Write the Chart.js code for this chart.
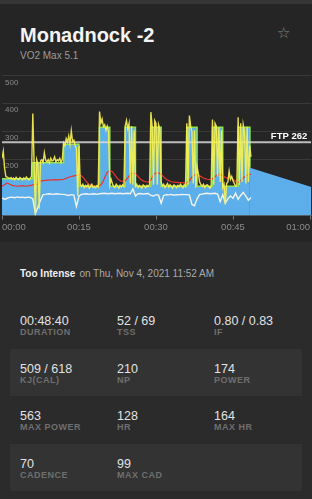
<!DOCTYPE html>
<html>
<head>
<meta charset="utf-8">
<script src="https://cdn.jsdelivr.net/npm/chart.js@4.4.0/dist/chart.umd.min.js"></script>
<style>
  html, body { margin: 0; padding: 0; }
  body {
    width: 312px; height: 499px; overflow: hidden; position: relative;
    background: #2b2b2b; font-family: "Liberation Sans", Arial, sans-serif;
  }
  .topbar { position: absolute; left: 0; top: 0; width: 312px; height: 4px; background: #363636; }
  .head { position: absolute; left: 0; top: 4px; width: 312px; height: 238px; background: #252525; }
  .title { position: absolute; left: 20px; top: 25px; font-size: 20px; line-height: 20px; font-weight: bold; color: #f4f4f4; }
  .sub { position: absolute; left: 20px; top: 51px; font-size: 10px; line-height: 10px; color: #9c9c9c; }
  .star { position: absolute; left: 277px; top: 24px; font-family: "DejaVu Sans"; font-size: 15px; line-height: 18px; color: #8a8a8a; }
  .chartbox { position: absolute; left: 0; top: 68px; width: 312px; height: 167px; }
  .feel { position: absolute; left: 20px; top: 269px; font-size: 10px; line-height: 10px; color: #aaa; white-space: nowrap; }
  .feel b { color: #f0f0f0; margin-right: 4px; }
  .stats { position: absolute; left: 0; top: 301px; width: 312px; }
  .row { position: relative; height: 47.5px; margin: 0 10px; }
  .row.alt { background: #333333; }
  .cell { position: absolute; top: 0; }
  .val { position: absolute; top: 14px; left: 0; font-size: 12.5px; line-height: 12.5px; color: #e2e2e2; white-space: nowrap; }
  .lab { position: absolute; top: 27px; left: 0; font-size: 9px; line-height: 9px; font-weight: bold; letter-spacing: 0.5px; color: #6f6f6f; white-space: nowrap; }
</style>
</head>
<body>
<div class="topbar"></div>
<div class="head"></div>
<div class="title">Monadnock -2</div>
<div class="sub">VO2 Max 5.1</div>
<div class="star">☆</div>
<div class="chartbox"><canvas id="ride"></canvas></div>
<div class="feel"><b>Too Intense</b>on Thu, Nov 4, 2021 11:52 AM</div>
<div class="stats" id="stats"></div>

<script>
'use strict';

// time axis (minutes)
let timeTicks = [0, 15, 30, 45, 60];
let xMax = 60.25;
let powerTicks = [200, 300, 400, 500];
let ftp = 262;

// planned workout profile (minutes / watts)
let targetTime = [0, 6, 6, 12, 12, 15, 15, 19, 19, 21, 21, 24, 24, 26, 26, 29, 29, 31, 31, 36, 36, 38, 38, 41, 41, 43, 43, 46, 46, 48.3, 48.3, 60.25];
let targetPower = [132, 132, 189, 189, 255, 255, 105, 105, 316, 316, 105, 105, 316, 316, 105, 105, 316, 316, 105, 105, 316, 316, 105, 105, 316, 316, 105, 105, 316, 316, 171, 102];
let workoutEnd = 48.3;

// actual power, one sample every 15 s
let powerStep = 0.25;
let power = [
  205, 230, 170, 140,  138, 135, 132, 136,  130, 134, 128, 137,  131, 129, 136, 133,
  128, 135, 130, 138,  132, 127, 134, 140,  365, 190, 0, 200,    185, 25, 195, 200,
  190, 225, 198, 192,  200, 188, 205, 195,  198, 210, 192, 200,  196, 205, 190, 202,
  260, 250, 275, 262,  285, 255, 303, 265,  270, 250, 240, 70,   250, 110, 105, 112,
  100, 108, 103, 110,  98, 105, 112, 100,   104, 99, 107, 102,   372, 330, 345, 318,
  325, 305, 320, 300,  110, 130, 115, 104,  100, 112, 106, 98,   108, 102, 110, 104,
  320, 340, 310, 330,  115, 320, 110, 305,  105, 112, 100, 108,  103, 98, 110, 106,
  100, 108, 104, 112,  370, 320, 110, 340,  330, 110, 325, 310,  120, 105, 112, 100,
  108, 115, 102, 110,  104, 98, 110, 106,   100, 108, 103, 112,  106, 100, 110, 104,
  330, 110, 358, 320,  300, 115, 305, 100,  175, 150, 120, 110,  105, 112, 100, 108,
  110, 104, 98, 106,   344, 110, 330, 320,  140, 315, 120, 305,  100, 112, 40, 115,
  120, 159, 130, 140,  125, 115, 105, 110,  352, 110, 330, 120,  325, 300, 115, 318,
  120, 250, 210
];

// heart rate and cadence, one sample every 30 s
let trackStep = 0.5;
let heartRate = [
  105, 110, 117, 112, 108, 106, 105, 106, 107, 105, 106, 107,
  110, 112, 113, 123, 125, 126, 127, 128, 128, 129, 128, 129,
  130, 133, 137, 140, 142, 144,
  147, 142, 132, 120, 111, 108, 106, 105,
  106, 115, 135, 155, 160, 158, 145, 132, 125, 122,
  124, 135, 148, 153, 150, 140, 130, 124, 121, 120,
  128, 145, 153, 152, 148, 138, 130, 125, 121, 120, 119, 118, 118, 117,
  118, 125, 138, 145, 147, 142, 137, 132, 130, 129,
  132, 140, 146, 147, 143, 136, 133, 138, 130, 122,
  118, 125, 135, 142, 147, 148
];
let cadence = [
  63, 58, 62, 65, 66, 64, 67, 65, 66, 64, 66, 65,
  60, 8, 30, 55, 75, 76, 78, 77, 76, 78, 77, 76,
  76, 74, 72, 75, 73, 33,
  70, 76, 77, 78, 76, 77, 78, 76,
  78, 79, 80, 78, 79, 80, 78, 79, 80, 78,
  79, 80, 78, 95, 70, 78, 79, 77, 78, 79,
  72, 70, 75, 73, 44, 72, 75, 74, 76, 73, 75, 74, 76, 75,
  75, 74, 40, 35, 60, 75, 77, 79, 80, 78,
  79, 80, 77, 50, 75, 45, 60, 70, 62, 80,
  58, 72, 83, 70, 55, 65
];

let statRows = [
  [['00:48:40', 'DURATION'], ['52 / 69', 'TSS'], ['0.80 / 0.83', 'IF']],
  [['509 / 618', 'KJ(CAL)'], ['210', 'NP'], ['174', 'POWER']],
  [['563', 'MAX POWER'], ['128', 'HR'], ['164', 'MAX HR']],
  [['70', 'CADENCE'], ['99', 'MAX CAD']]
];
let colLeft = [10, 107, 204];

// stats table
let statsEl = document.getElementById('stats');
statRows.forEach(function (row, r) {
  let rowEl = document.createElement('div');
  rowEl.className = 'row' + (r % 2 === 1 ? ' alt' : '');
  row.forEach(function (item, c) {
    let cell = document.createElement('div');
    cell.className = 'cell';
    cell.style.left = colLeft[c] + 'px';
    cell.innerHTML = '<div class="val">' + item[0] + '</div><div class="lab">' + item[1] + '</div>';
    rowEl.appendChild(cell);
  });
  statsEl.appendChild(rowEl);
});

function toPoints(values, step) {
  return values.map(function (v, i) { return { x: i * step, y: v }; });
}

function clock(v) {
  let h = Math.floor(v / 60);
  let m = Math.round(v % 60);
  return String(h).padStart(2, '0') + ':' + String(m).padStart(2, '0');
}

let fontFamily = '"Liberation Sans", Arial, sans-serif';

let ftpLabel = {
  id: 'ftpLabel',
  afterDatasetsDraw(chart) {
    let ctx = chart.ctx;
    let y = chart.scales.y.getPixelForValue(ftp);
    ctx.save();
    ctx.font = 'bold 9.5px ' + fontFamily;
    ctx.fillStyle = '#ffffff';
    ctx.textAlign = 'right';
    ctx.textBaseline = 'alphabetic';
    ctx.fillText('FTP ' + ftp, chart.chartArea.right - 4, y - 3);
    ctx.restore();
  }
};

new Chart(document.getElementById('ride'), {
  type: 'line',
  data: {
    datasets: [
      {
        label: 'Power',
        data: toPoints(power, powerStep),
        borderColor: 'rgba(246, 240, 80, 0.92)',
        borderWidth: 1.4,
        order: 1
      },
      {
        label: 'Heart rate',
        data: toPoints(heartRate, trackStep),
        borderColor: '#e8342b',
        borderWidth: 1.2,
        order: 2
      },
      {
        label: 'Cadence',
        data: toPoints(cadence, trackStep),
        borderColor: '#f2f2f2',
        borderWidth: 1.4,
        order: 3
      },
      {
        label: 'FTP',
        data: [{ x: 0, y: ftp }, { x: xMax, y: ftp }],
        borderColor: 'rgba(215, 215, 215, 0.85)',
        borderWidth: 2,
        order: 4
      },
      {
        label: 'Target',
        data: targetTime.map(function (t, i) { return { x: t, y: targetPower[i] }; }),
        borderColor: '#8fe24a',
        backgroundColor: '#5cafea',
        borderWidth: 1.5,
        fill: 'origin',
        segment: {
          borderColor: function (c) { return c.p1.parsed.x > workoutEnd ? 'rgba(0,0,0,0)' : undefined; }
        },
        order: 5
      }
    ]
  },
  options: {
    responsive: true,
    maintainAspectRatio: false,
    animation: false,
    layout: { padding: { top: 3, left: 0, right: 0, bottom: 0 } },
    elements: { point: { radius: 0 }, line: { tension: 0 } },
    plugins: { legend: { display: false }, tooltip: { enabled: false } },
    scales: {
      x: {
        type: 'linear',
        min: 0,
        max: xMax,
        afterBuildTicks: function (s) { s.ticks = timeTicks.map(function (v) { return { value: v }; }); },
        grid: { drawOnChartArea: false, drawTicks: true, tickLength: 4, color: '#777' },
        border: { display: true, color: '#555' },
        ticks: {
          align: 'inner', padding: 2, color: '#8c8c8c', maxRotation: 0, autoSkip: false,
          font: { family: fontFamily, size: 9.5 },
          callback: function (v) { return clock(v); }
        }
      },
      y: {
        min: 0,
        max: 500,
        afterFit: function (s) { s.width = 0; },
        grid: { color: '#393939', drawTicks: false },
        border: { display: false },
        ticks: {
          stepSize: 100, mirror: true, padding: 3, labelOffset: 6.5, color: '#8a8a8a',
          font: { family: fontFamily, size: 8 },
          callback: function (v) { return powerTicks.includes(v) ? v : ''; }
        }
      }
    }
  },
  plugins: [ftpLabel]
});
</script>
</body>
</html>
